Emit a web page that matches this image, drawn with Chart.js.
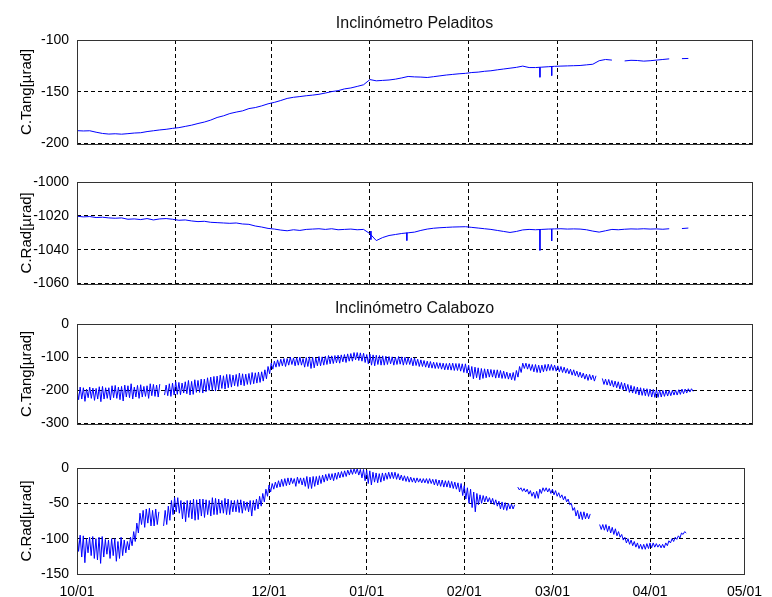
<!DOCTYPE html>
<html>
<head>
<meta charset="utf-8">
<script src="https://cdn.jsdelivr.net/npm/chart.js@4.4.1/dist/chart.umd.min.js"></script>
<style>
  body { margin: 0; background: #fff; }
  #fig { position: relative; width: 772px; height: 597px; background: #fff; overflow: hidden; }
  #fig canvas { position: absolute; left: 0; }
  .titulo { position: absolute; left: 77px; width: 675px; text-align: center; font: 16px 'Liberation Sans', Arial, sans-serif; line-height: 16px; color: #111; }
</style>
</head>
<body>
<div id="fig">
  <canvas id="g1" width="772" height="160" style="top:0"></canvas>
  <canvas id="g2" width="772" height="140" style="top:160px"></canvas>
  <canvas id="g3" width="772" height="140" style="top:300px"></canvas>
  <canvas id="g4" width="772" height="157" style="top:440px"></canvas>
  <div class="titulo" style="top:15px">Inclinómetro Peladitos</div>
  <div class="titulo" style="top:300px">Inclinómetro Calabozo</div>
</div>
<script>
// días desde el 1 de octubre en que empieza cada mes
const diasMes = [0, 31, 61, 92, 123, 151, 182, 212];
const etiquetasMes = ['10/01', '', '12/01', '01/01', '02/01', '03/01', '04/01', '05/01'];

// Peladitos: una muestra cada 2 días
const dias = Array.from({ length: 97 }, (_, i) => i * 2);
// Calabozo: máximo y mínimo de cada día (el mínimo a mitad de jornada)
const diasCal = Array.from({ length: 194 }, (_, i) => i);

// Peladitos - componente tangencial [µrad]
const tangPeladitos = [
  -187.5, -187.8, -187.6, -189, -190.2, -190.8, -190.5, -190.9, -190.4, -189.8,
  -189.5, -188.4, -187.6, -186.8, -186.2, -185.3, -184.6, -183.4, -182.2, -180.6,
  -179.2, -177.3, -174.8, -173.2, -171, -169.6, -168.4, -166.2, -165.2, -163.6,
  -161.6, -160.2, -158.4, -156.4, -155.3, -154.6, -153.8, -153.2, -152.4, -151.2,
  -149.8, -148.9, -147.2, -146.3, -144.8, -143.2, -138.2, -139.4, -139, -138.6,
  -137.8, -136.6, -135.2, -135.6, -135.8, -136.2, -135.4, -134.6, -133.8, -133.2,
  -132.6, -132.2, -131.4, -131, -130.2, -129.7, -128.8, -128, -127.2, -126.4,
  -125.2, -126.6, -126.6, -126.2, -125.8, -125.4, -125.2, -125, -124.8, -124.6,
  -124, -123.4, -120, -118.8, -119.4, null, -120.2, -119.6, -119.8, -120.4,
  -120, -119.4, -118.8, -118.2, null, -118, -117.8
];
const picosTangPelDia = [145.4, 149.1];
const picosTangPelBase = [-126.4, -125.6];
const picosTangPelFondo = [-136, -134.4];

// Peladitos - componente radial [µrad]
const radPeladitos = [
  -1020.2, -1020.6, -1020.4, -1021, -1020.8, -1021.2, -1021.4, -1021.2, -1022, -1021.8,
  -1022.2, -1021.6, -1022.4, -1021.8, -1021.6, -1022, -1022.6, -1022.4, -1023, -1023.4,
  -1023.2, -1023.8, -1024, -1024.2, -1024.4, -1024.2, -1024.8, -1025, -1026, -1026.6,
  -1027.4, -1027.8, -1028.4, -1028.8, -1028.2, -1028.6, -1028, -1027.8, -1027.6, -1028,
  -1027.6, -1028.2, -1028, -1027.8, -1028.2, -1028, -1030.5, -1034.6, -1032.8, -1031.6,
  -1031, -1030.4, -1030, -1029.6, -1028.6, -1027.8, -1027.3, -1027, -1026.8, -1026.6,
  -1026.5, -1026.4, -1026.8, -1027.2, -1027.6, -1028, -1028.6, -1029.2, -1029.8, -1029.2,
  -1028.3, -1028, -1028.2, -1028, -1027.8, -1027.7, -1027.6, -1027.8, -1027.7, -1027.8,
  -1028.2, -1029, -1029.6, -1028.8, -1028, -1028.2, -1027.9, -1027.7, -1027.8, -1027.6,
  -1027.8, -1027.7, -1027.9, -1027.6, null, -1027.5, -1027.2
];
const picosRadPelDia = [92.3, 103.6, 145.4, 149.1];
const picosRadPelBase = [-1029, -1030, -1028, -1027.8];
const picosRadPelFondo = [-1034, -1034.6, -1040.4, -1034.8];

// Calabozo - componente tangencial: máximos y mínimos diarios [µrad]
const tangCalabozoAlto = [
  -195, -190, -192, -196, -190, -193, -194, -189, -188, -192,
  -192, -186, -185, -190, -188, -184, -186, -180, -190, -185,
  -183, -188, -186, -180, -182, -184, -181, null, -184, -180,
  -178, -174, -176, -178, -174, -170, -173, -168, -170, -166,
  -166, -162, -160, -158, -157, -154, -156, -152, -152, -154,
  -152, -148, -150, -151, -149, -146, -147, -145, -144, -138,
  -128, -118, -112, -108, -106, -104, -104, -100, -102, -101,
  -100, -104, -101, -99, -100, -102, -98, -99, -97, -95,
  -96, -95, -94, -93, -92, -90, -89, -86, -86, -87,
  -88, -92, -91, -93, -94, -95, -96, -97, -98, -99,
  -100, -98, -99, -100, -101, -102, -102, -106, -108, -110,
  -112, -113, -115, -116, -117, -118, -119, -118, -118, -119,
  -119, -120, -120, -124, -128, -130, -132, -134, -135, -136,
  -137, -138, -138, -140, -142, -145, -148, -146, -140, -128,
  -118, -118, -120, -122, -122, -124, -124, -122, -121, -122,
  -124, -126, -128, -130, -134, -136, -138, -142, -145, -148,
  -151, -152, -154, -156, null, -164, -166, -167, -170, -172,
  -174, -176, -178, -182, -185, -188, -190, -192, -194, -195,
  -196, -197, -198, -199, -200, -200, -200, -200, -199, -198,
  -196, -196, -195, -195
];
const tangCalabozoBajo = [
  -228, -226, -233, -222, -224, -230, -226, -234, -226, -224,
  -229, -222, -224, -228, -232, -220, -222, -226, -220, -224,
  -220, -218, -224, -216, -218, -220, null, -214, -216, -218,
  -214, -212, -213, -208, -210, -214, -212, -206, -206, -208,
  -204, -200, -200, -202, -198, -194, -196, -192, -190, -186,
  -188, -184, -186, -182, -182, -180, -178, -176, -172, -165,
  -150, -136, -130, -128, -126, -128, -124, -122, -126, -124,
  -124, -130, -128, -134, -132, -126, -126, -124, -122, -120,
  -119, -117, -118, -114, -116, -112, -112, -108, -110, -112,
  -116, -120, -124, -126, -122, -124, -124, -122, -120, -124,
  -122, -121, -124, -122, -122, -126, -125, -128, -128, -130,
  -132, -133, -134, -134, -136, -138, -138, -139, -140, -140,
  -142, -146, -148, -158, -165, -162, -168, -164, -162, -160,
  -160, -163, -162, -164, -164, -166, -168, -170, -160, -146,
  -134, -136, -140, -144, -146, -147, -144, -142, -140, -140,
  -142, -144, -146, -148, -150, -154, -156, -160, -162, -166,
  -170, -168, -172, null, null, -182, -184, -186, -190, -192,
  -196, -198, -202, -206, -208, -210, -214, -215, -216, -218,
  -220, -221, -221, -220, -218, -217, -216, -214, -214, -212,
  -210, -208, -205, -203
];

// Calabozo - componente radial: máximos y mínimos diarios [µrad]
const radCalabozoAlto = [
  -93, -95, -96, -100, -98, -97, -100, -98, -97, -101,
  -102, -100, -100, -104, -98, -102, -104, -98, -90, -78,
  -64, -60, -58, -57, -60, -58, -62, null, -60, -54,
  -46, -42, -42, -46, -48, -46, -46, -44, -45, -44,
  -44, -45, -46, -42, -43, -44, -46, -43, -44, -46,
  -46, -45, -45, -47, -48, -46, -46, -44, -40, -36,
  -30, -24, -22, -20, -18, -16, -15, -14, -14, -15,
  -13, -14, -14, -12, -13, -12, -12, -11, -10, -9,
  -8, -8, -7, -6, -5, -4, -3, -2, -1, -1,
  -2, -2, -3, -4, -6, -7, -8, -7, -7, -6,
  -6, -6, -8, -10, -11, -12, -13, -14, -14, -15,
  -15, -15, -15, -16, -16, -17, -17, -18, -18, -19,
  -20, -21, -22, -25, -28, -30, -34, -36, -38, -39,
  -40, -42, -43, -45, -47, -48, -49, -50, -51, -52,
  -27, -28, -29, -30, -32, -34, -33, -30, -28, -28,
  -29, -30, -32, -35, -38, -40, -44, -50, -56, -60,
  -62, -62, -64, -65, null, null, -80, -80, -80, -82,
  -84, -86, -90, -94, -98, -100, -102, -104, -106, -108,
  -108, -107, -106, -106, -107, -108, -108, -106, -103, -100,
  -98, -96, -92, -90
];
const radCalabozoBajo = [
  -118, -126, -134, -120, -124, -128, -130, -135, -126, -122,
  -128, -124, -132, -128, -124, -120, -116, -110, -104, -92,
  -80, -84, -78, -82, -82, -80, null, -82, -80, -74,
  -66, -62, -64, -72, -76, -70, -72, -74, -73, -68,
  -70, -66, -68, -66, -66, -64, -64, -66, -66, -62,
  -62, -63, -64, -60, -62, -68, -60, -58, -54, -48,
  -40, -34, -30, -28, -27, -26, -25, -24, -22, -26,
  -22, -24, -26, -29, -29, -26, -24, -22, -20, -18,
  -17, -18, -16, -14, -13, -12, -10, -9, -8, -10,
  -14, -18, -22, -24, -20, -21, -20, -18, -16, -15,
  -15, -16, -17, -18, -19, -20, -20, -21, -20, -21,
  -21, -22, -22, -24, -25, -26, -27, -27, -28, -29,
  -30, -34, -39, -44, -50, -56, -62, -52, -50, -48,
  -48, -50, -52, -54, -58, -59, -60, -58, -58, null,
  -31, -33, -34, -37, -40, -43, -43, -36, -33, -34,
  -36, -38, -40, -42, -45, -48, -52, -60, -68, -72,
  -73, -72, -72, null, null, null, -87, -88, -90, -92,
  -94, -96, -98, -102, -106, -108, -110, -112, -114, -115,
  -115, -114, -113, -112, -112, -113, -113, -110, -106, -104,
  -101, -99, -94, -92
];

const AZUL = '#0000ff';
Chart.defaults.font.family = "'Liberation Sans', Arial, sans-serif";
Chart.defaults.font.size = 14;
Chart.defaults.color = '#000';

function serieSimple(valores) {
  return {
    data: dias.map((d, i) => ({ x: d, y: valores[i] })),
    borderColor: AZUL, borderWidth: 1, pointRadius: 0, tension: 0
  };
}

function serieOscilante(alto, bajo) {
  const puntos = [];
  diasCal.forEach((d, i) => {
    puntos.push({ x: d, y: alto[i] });
    puntos.push({ x: d + 0.5, y: bajo[i] });
  });
  return { data: puntos, borderColor: AZUL, borderWidth: 1, pointRadius: 0, tension: 0 };
}

function picos(dia, base, fondo) {
  return dia.map((d, i) => ({
    data: [{ x: d, y: base[i] }, { x: d, y: fondo[i] }],
    borderColor: AZUL, borderWidth: 1, pointRadius: 0
  }));
}

// recuadro continuo alrededor del área de datos
const marco = {
  id: 'marco',
  afterDraw(chart) {
    const { ctx, chartArea: a } = chart;
    ctx.save();
    ctx.setLineDash([]);
    ctx.strokeStyle = '#333';
    ctx.lineWidth = 1;
    ctx.strokeRect(Math.round(a.left) + 0.5, Math.round(a.top) + 0.5,
      Math.round(a.right - a.left), Math.round(a.bottom - a.top));
    ctx.restore();
  }
};

function crearGrafico(id, conf) {
  return new Chart(document.getElementById(id), {
    type: 'line',
    data: { datasets: conf.datasets },
    options: {
      responsive: false,
      animation: false,
      events: [],
      layout: { autoPadding: false, padding: { left: 0, right: 20, top: conf.arriba, bottom: conf.abajo } },
      plugins: { legend: { display: false }, tooltip: { enabled: false } },
      scales: {
        x: {
          type: 'linear', min: 0, max: 212,
          afterBuildTicks: s => { s.ticks = diasMes.map(v => ({ value: v })); },
          afterFit: s => { s.height = conf.altoX; },
          ticks: {
            display: conf.fechas, autoSkip: false, maxRotation: 0, padding: 10,
            callback: (v, i) => etiquetasMes[i]
          },
          grid: { color: '#000', lineWidth: 1, drawTicks: false },
          border: { display: false, dash: [4, 3] }
        },
        y: {
          min: conf.min, max: conf.max,
          afterFit: s => { s.width = 77; },
          ticks: { stepSize: conf.paso, padding: 8, callback: v => String(v) },
          title: { display: true, text: conf.etiqueta, font: { size: 15 }, padding: { top: 18, bottom: 0 } },
          grid: { color: '#000', lineWidth: 1, drawTicks: false },
          border: { display: false, dash: [4, 3] }
        }
      }
    },
    plugins: [marco]
  });
}

crearGrafico('g1', {
  datasets: [serieSimple(tangPeladitos), ...picos(picosTangPelDia, picosTangPelBase, picosTangPelFondo)],
  min: -200, max: -100, paso: 50, etiqueta: 'C.Tang[µrad]',
  arriba: 40, abajo: 13, altoX: 0, fechas: false
});
crearGrafico('g2', {
  datasets: [serieSimple(radPeladitos), ...picos(picosRadPelDia, picosRadPelBase, picosRadPelFondo)],
  min: -1060, max: -1000, paso: 20, etiqueta: 'C.Rad[µrad]',
  arriba: 22, abajo: 11, altoX: 0, fechas: false
});
crearGrafico('g3', {
  datasets: [serieOscilante(tangCalabozoAlto, tangCalabozoBajo)],
  min: -300, max: 0, paso: 100, etiqueta: 'C.Tang[µrad]',
  arriba: 24, abajo: 9, altoX: 0, fechas: false
});
crearGrafico('g4', {
  datasets: [serieOscilante(radCalabozoAlto, radCalabozoBajo)],
  min: -150, max: 0, paso: 50, etiqueta: 'C.Rad[µrad]',
  arriba: 28, abajo: 0, altoX: 23, fechas: true
});
</script>
</body>
</html>
